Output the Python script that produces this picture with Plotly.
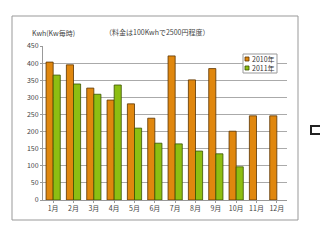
import plotly.graph_objects as go

months = ["1月", "2月", "3月", "4月", "5月", "6月", "7月", "8月", "9月", "10月", "11月", "12月"]
y2010 = [403, 395, 327, 292, 281, 239, 421, 351, 384, 201, 246, 246]
y2011 = [365, 339, 309, 336, 210, 166, 164, 143, 135, 97, None, None]
series_names = ["2010年", "2011年"]
yticks = [0, 50, 100, 150, 200, 250, 300, 350, 400, 450]

FONT = "Noto Sans CJK JP"
C2010, E2010 = "#E0870E", "#5A3300"
C2011, E2011 = "#8DBE12", "#3A5200"

fig = go.Figure()
fig.add_trace(go.Bar(x=months, y=y2010, name=series_names[0], showlegend=False,
                     marker=dict(color=C2010, line=dict(color=E2010, width=0.8))))
fig.add_trace(go.Bar(x=months, y=y2011, name=series_names[1], showlegend=False,
                     marker=dict(color=C2011, line=dict(color=E2011, width=0.8))))

L, R, T, B = 43, 33, 46, 42
W, H = 320, 242
pw, ph = W - L - R, H - T - B

def px(x):
    return (x - L) / pw

def py(y):
    return (H - B - y) / ph

shapes = [
    dict(type="rect", xref="paper", yref="paper",
         x0=px(12), x1=px(298), y0=py(220), y1=py(16),
         line=dict(color="#999999", width=1), fillcolor="rgba(0,0,0,0)", layer="below"),
    dict(type="rect", xref="paper", yref="paper",
         x0=px(311), x1=px(324), y0=py(134), y1=py(126),
         line=dict(color="#222222", width=2), fillcolor="rgba(0,0,0,0)"),
    # legend box
    dict(type="rect", xref="paper", yref="paper",
         x0=px(243), x1=px(277), y0=py(73), y1=py(54),
         line=dict(color="#999999", width=1), fillcolor="white"),
]
annotations = [
    dict(text="Kwh(Kw毎時)", xref="paper", yref="paper", x=px(30), y=py(33),
         xanchor="left", yanchor="middle", showarrow=False,
         font=dict(size=7, color="#444444")),
    dict(text="（料金は100Kwhで2500円程度）", xref="paper", yref="paper", x=px(157), y=py(32),
         xanchor="center", yanchor="middle", showarrow=False,
         font=dict(size=7, color="#444444")),
]
for i, (nm, c, e) in enumerate([(series_names[0], C2010, E2010), (series_names[1], C2011, E2011)]):
    yc = 59 + i * 9
    shapes.append(dict(type="rect", xref="paper", yref="paper",
                       x0=px(245), x1=px(249), y0=py(yc + 2), y1=py(yc - 2),
                       line=dict(color=e, width=0.8), fillcolor=c))
    annotations.append(dict(text=nm, xref="paper", yref="paper", x=px(250), y=py(yc),
                            xanchor="left", yanchor="middle", showarrow=False,
                            font=dict(size=7, color="#333333")))

fig.update_layout(
    width=W, height=H,
    margin=dict(l=L, r=R, t=T, b=B),
    paper_bgcolor="white", plot_bgcolor="white",
    barmode="group", bargap=0.3, bargroupgap=0.0,
    font=dict(family=FONT, size=7, color="#444444"),
    showlegend=False,
    xaxis=dict(showgrid=False, showline=True, linecolor="#999999", linewidth=1,
               ticks="outside", ticklen=2, tickcolor="#999999",
               tickfont=dict(size=7, color="#444444")),
    yaxis=dict(range=[0, 450], tickvals=yticks, showgrid=True, gridcolor="#AAAAAA",
               gridwidth=1, showline=True, linecolor="#999999", linewidth=1,
               ticks="outside", ticklen=2, tickcolor="#999999",
               zeroline=False, tickfont=dict(size=7, color="#444444")),
    shapes=shapes,
    annotations=annotations,
)

fig.write_html("out.html")
